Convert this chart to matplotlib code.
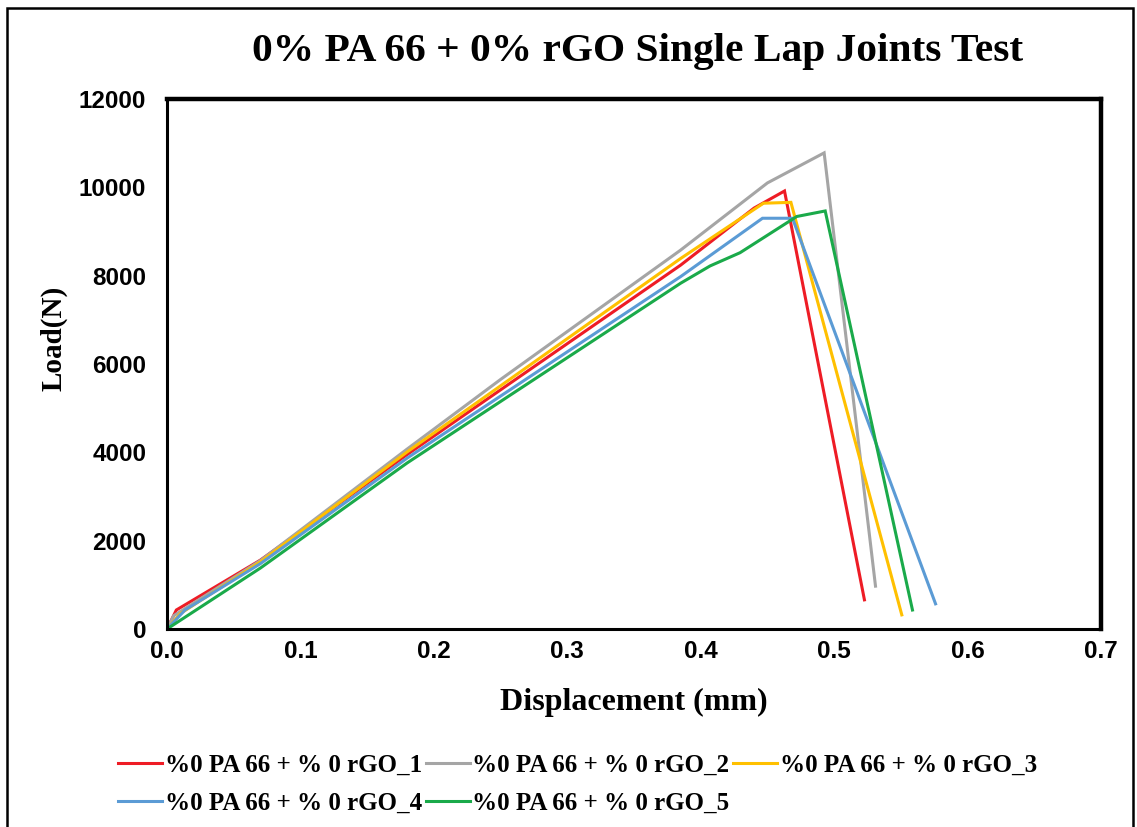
import matplotlib.pyplot as plt
from matplotlib.patches import Rectangle

# displacement (mm) / load (N)
x1 = [0, 0.007, 0.07, 0.18, 0.385, 0.44, 0.4628, 0.5227]
y1 = [0, 430, 1560, 3950, 8240, 9530, 9917, 660]
x2 = [0, 0.005, 0.07, 0.18, 0.25, 0.385, 0.45, 0.4925, 0.531]
y2 = [0, 300, 1550, 4075, 5650, 8580, 10100, 10780, 970]
x3 = [0, 0.01, 0.07, 0.18, 0.385, 0.447, 0.4676, 0.5507]
y3 = [0, 350, 1520, 4010, 8390, 9640, 9660, 320]
x4 = [0, 0.0135, 0.07, 0.18, 0.385, 0.4463, 0.4688, 0.576]
y4 = [0, 430, 1480, 3870, 7980, 9300, 9300, 570]
x5 = [0, 0.07, 0.18, 0.26, 0.385, 0.407, 0.4295, 0.472, 0.4933, 0.5587]
y5 = [0, 1380, 3760, 5350, 7830, 8220, 8520, 9340, 9465, 430]

labels = ['%0 PA 66 + % 0 rGO_1', '%0 PA 66 + % 0 rGO_2', '%0 PA 66 + % 0 rGO_3',
          '%0 PA 66 + % 0 rGO_4', '%0 PA 66 + % 0 rGO_5']
colors = ['#EE1C25', '#A5A5A5', '#FFC000', '#5B9BD5', '#1AAA4A']
xticks = [0.0, 0.1, 0.2, 0.3, 0.4, 0.5, 0.6, 0.7]
yticks = [0, 2000, 4000, 6000, 8000, 10000, 12000]

serif = 'Liberation Serif'
sans = 'Liberation Sans'

fig = plt.figure(figsize=(11.37, 8.27), dpi=100)
ax = fig.add_axes([167/1137, 1-629/827, (1101-167)/1137, (629-99)/827])

lines = []
for xs, ys, c, lab in zip([x1, x2, x3, x4, x5], [y1, y2, y3, y4, y5], colors, labels):
    ln, = ax.plot(xs, ys, color=c, lw=2.2, label=lab, solid_joinstyle='miter')
    lines.append(ln)

ax.set_xlim(0, 0.7)
ax.set_ylim(0, 12000)
ax.set_xticks(xticks)
ax.set_xticklabels(['%.1f' % v for v in xticks])
ax.set_yticks(yticks)
ax.tick_params(length=0)
ax.tick_params(axis='y', pad=15)
ax.tick_params(axis='x', pad=8)
for t in ax.get_xticklabels() + ax.get_yticklabels():
    t.set_fontfamily(sans)
    t.set_fontweight('bold')
    t.set_fontsize(17.5)

for s in ['top', 'right']:
    ax.spines[s].set_linewidth(3.2)
    ax.spines[s].set_color('black')
for s in ['left', 'bottom']:
    ax.spines[s].set_linewidth(2.2)
    ax.spines[s].set_color('black')
# light inner stripe on left/bottom spine
ax.plot([0, 0], [0, 1], transform=ax.transAxes, color='#b4c0d0', lw=0.9, clip_on=False)
ax.plot([0, 1], [0, 0], transform=ax.transAxes, color='#b4c0d0', lw=0.9, clip_on=False)

ax.set_xlabel('Displacement (mm)', fontfamily=serif, fontweight='bold', fontsize=23, labelpad=18)
ax.set_ylabel('Load(N)', fontfamily=serif, fontweight='bold', fontsize=21)
ax.yaxis.set_label_coords(-(167-68)/934, (629-338)/530)

fig.text(638/1137, 1-52/827, '0% PA 66 + 0% rGO Single Lap Joints Test',
         fontfamily=serif, fontweight='bold', fontsize=29.8, ha='center', va='center')

# legend, reordered so rows read 1 2 3 / 4 5
order = [0, 3, 1, 4, 2]
leg = fig.legend([lines[i] for i in order], [labels[i] for i in order], ncol=3,
                 loc='upper left', bbox_to_anchor=(108/1137, 1-744/827),
                 frameon=False, handlelength=1.75, handletextpad=0.12,
                 columnspacing=0.15, labelspacing=0.6, borderaxespad=0,
                 prop={'family': serif, 'weight': 'bold', 'size': 18})

# outer frame of the chart
fig.patches.append(Rectangle((7/1137, -0.01), (1133-7)/1137, 1-8/827+0.01,
                             transform=fig.transFigure, fill=False,
                             edgecolor='black', lw=1.8))

fig.savefig('out.png', dpi=100)
